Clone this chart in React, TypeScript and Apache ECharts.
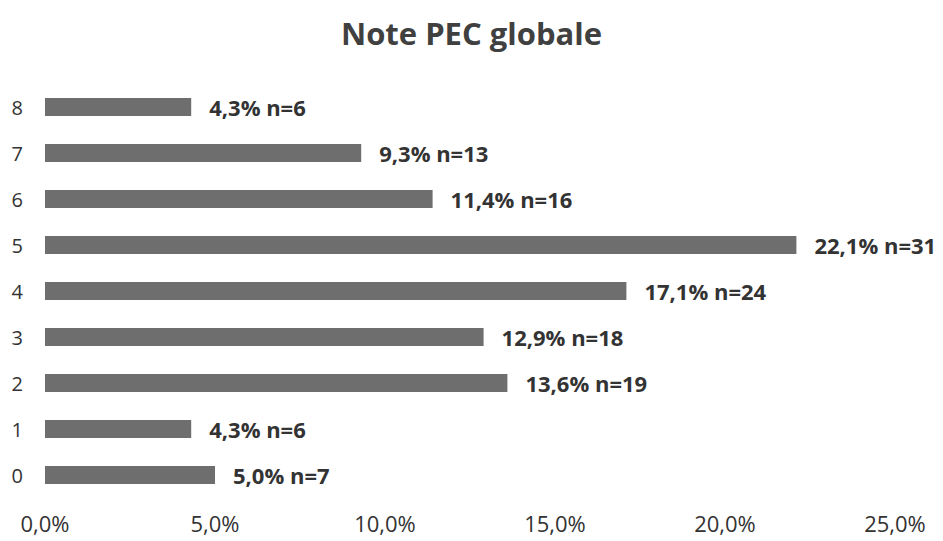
import React, { useEffect, useRef } from "react";
import * as echarts from "echarts";

const categories = ["0", "1", "2", "3", "4", "5", "6", "7", "8"];
const percents = [5.0, 4.3, 13.6, 12.9, 17.1, 22.1, 11.4, 9.3, 4.3];
const counts = [7, 6, 19, 18, 24, 31, 16, 13, 6];
const xTicks = [0, 5, 10, 15, 20, 25];

const fmt = (v: number) => v.toFixed(1).replace(".", ",") + "%";

export default function App() {
  const ref = useRef<HTMLDivElement>(null);
  useEffect(() => {
    if (!ref.current) return;
    const chart = echarts.init(ref.current, null, { renderer: "svg" });
    chart.setOption({
      animation: false,
      backgroundColor: "#ffffff",
      title: {
        text: "Note PEC globale",
        left: "center",
        top: 12,
        textStyle: { fontFamily: "Open Sans", fontWeight: "bold", fontSize: 31, color: "#404040" },
      },
      grid: { left: 45, right: 48, top: 84, height: 414, containLabel: false },
      xAxis: {
        type: "value",
        min: xTicks[0],
        max: xTicks[xTicks.length - 1],
        interval: 5,
        axisLine: { show: false },
        axisTick: { show: false },
        splitLine: { show: false },
        axisLabel: {
          formatter: (v: number) => fmt(v),
          fontFamily: "Open Sans",
          fontSize: 22,
          color: "#333333",
          margin: 14,
        },
      },
      yAxis: {
        type: "category",
        data: categories,
        axisLine: { show: false },
        axisTick: { show: false },
        axisLabel: { fontFamily: "Open Sans", fontSize: 20, color: "#333333", margin: 22 },
      },
      series: [
        {
          type: "bar",
          data: percents,
          barWidth: 18,
          itemStyle: { color: "#6e6e6e" },
          label: {
            show: true,
            position: "right",
            distance: 18,
            fontFamily: "Open Sans",
            fontWeight: "bold",
            fontSize: 22,
            color: "#333333",
            formatter: (p: any) => `${fmt(p.value)} n=${counts[p.dataIndex]}`,
          },
        },
      ],
    });
    return () => chart.dispose();
  }, []);
  return (
    <div
      ref={ref}
      style={{ position: "absolute", left: 0, top: 0, width: 943, height: 541 }}
    />
  );
}
